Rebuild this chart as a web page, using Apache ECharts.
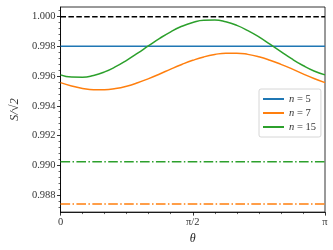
<!DOCTYPE html>
<html>
<head>
<meta charset="utf-8">
<script src="https://cdn.jsdelivr.net/npm/echarts@6/dist/echarts.min.js"></script>
<style>
  html, body { margin: 0; padding: 0; background: #fff; }
  #chart { width: 333px; height: 250px; }
</style>
</head>
<body>
<div id="chart"></div>
<script>
// theta samples (rad), 0 .. pi
const theta = [0, 0.1309, 0.2618, 0.3927, 0.5236, 0.6545, 0.7854, 0.9163, 1.0472, 1.1781,
  1.3090, 1.4399, 1.5708, 1.7017, 1.8326, 1.9635, 2.0944, 2.2253, 2.3562, 2.4871,
  2.6180, 2.7489, 2.8798, 3.0107, 3.14159];
// n = 7 curve (orange)
const n7 = [0.99556, 0.99533, 0.99517, 0.99508, 0.99508, 0.99516, 0.99532, 0.99555, 0.99583, 0.99614,
  0.99647, 0.99678, 0.99706, 0.99729, 0.99745, 0.99754, 0.99754, 0.99746, 0.99730, 0.99707,
  0.99679, 0.99648, 0.99615, 0.99584, 0.99556];
// n = 15 curve (green)
const n15 = [0.99608, 0.99593, 0.99592, 0.99604, 0.99628, 0.99663, 0.99706, 0.99754, 0.99805, 0.99854,
  0.99898, 0.99935, 0.99961, 0.99976, 0.99977, 0.99965, 0.99941, 0.99906, 0.99864, 0.99815,
  0.99765, 0.99715, 0.99671, 0.99634, 0.99608];
// constant levels
const n5Level = 0.998;
const refLevel = 1.0;
const n7Bound = 0.98738;
const n15Bound = 0.99023;

// y tick values
const yMajor = [0.988, 0.990, 0.992, 0.994, 0.996, 0.998, 1.000];
const yMinor = [0.9872, 0.9876, 0.9884, 0.9888, 0.9892, 0.9896, 0.9904, 0.9908, 0.9912, 0.9916,
  0.9924, 0.9928, 0.9932, 0.9936, 0.9944, 0.9948, 0.9952, 0.9956, 0.9964, 0.9968, 0.9972, 0.9976,
  0.9984, 0.9988, 0.9992, 0.9996, 1.0004];

const yMin = 0.98684, yMax = 1.00065;
const font = 'Liberation Serif';

const pairs = ys => theta.map((t, i) => [t, ys[i]]);
const flat = v => [[0, v], [Math.PI, v]];

const myChart = echarts.init(document.getElementById('chart'));

const option = {
  animation: false,
  grid: { left: 51.7, right: 8, top: 7, bottom: 37, show: true, borderColor: '#000', borderWidth: 0.8 },
  xAxis: {
    type: 'value', min: 0, max: Math.PI, interval: Math.PI / 2,
    name: 'θ', nameLocation: 'middle', nameGap: 18,
    nameTextStyle: { fontFamily: font, fontStyle: 'italic', fontSize: 12, color: '#222' },
    axisLine: { lineStyle: { color: '#000', width: 0.8 } },
    axisTick: { length: 3.5, lineStyle: { color: '#000', width: 0.8 } },
    minorTick: { show: true, splitNumber: 6, length: 2, lineStyle: { color: '#000', width: 0.6 } },
    splitLine: { show: false },
    axisLabel: {
      fontFamily: font, fontSize: 10.5, color: '#333', margin: 5,
      formatter: v => Math.abs(v) < 1e-6 ? '0' : (Math.abs(v - Math.PI / 2) < 1e-6 ? 'π/2' : 'π')
    }
  },
  yAxis: [{
    type: 'value', min: yMin, max: yMax,
    name: 'S/√2', nameLocation: 'middle', nameGap: 35,
    nameTextStyle: { fontFamily: font, fontStyle: 'italic', fontSize: 12.5, color: '#333' },
    axisLine: { lineStyle: { color: '#000', width: 0.8 } },
    axisTick: { length: 3.5, customValues: yMajor, lineStyle: { color: '#000', width: 0.8 } },
    splitLine: { show: false },
    axisLabel: {
      fontFamily: font, fontSize: 10.5, color: '#333', margin: 5,
      customValues: yMajor,
      formatter: v => v.toFixed(3)
    }
  }, {
    type: 'value', min: yMin, max: yMax, position: 'left',
    axisLine: { show: false },
    axisTick: { length: 2, customValues: yMinor, lineStyle: { color: '#000', width: 0.6 } },
    axisLabel: { show: false },
    splitLine: { show: false }
  }],
  legend: {
    data: ['n5', 'n7', 'n15'],
    orient: 'vertical', left: 259, top: 89,
    backgroundColor: '#fff', borderColor: '#ccc', borderWidth: 0.8, borderRadius: 2,
    padding: [4, 5, 4, 4], itemGap: 2, itemWidth: 21, itemHeight: 2, icon: 'rect',
    formatter: name => '{i|n} = ' + name.slice(1),
    textStyle: {
      fontFamily: font, fontSize: 10.5, color: '#333', lineHeight: 12,
      rich: { i: { fontFamily: font, fontStyle: 'italic', fontSize: 10.5, color: '#333', lineHeight: 12 } }
    }
  },
  series: [
    { name: 'ref', type: 'line', symbol: 'none', data: flat(refLevel),
      lineStyle: { color: '#000', width: 1.5, type: [5.5, 2.4] } },
    { name: 'n5', type: 'line', symbol: 'none', data: flat(n5Level),
      lineStyle: { color: '#1f77b4', width: 1.5 }, itemStyle: { color: '#1f77b4' } },
    { name: 'n7', type: 'line', symbol: 'none', smooth: true, data: pairs(n7),
      lineStyle: { color: '#ff7f0e', width: 1.5 }, itemStyle: { color: '#ff7f0e' } },
    { name: 'n15', type: 'line', symbol: 'none', smooth: true, data: pairs(n15),
      lineStyle: { color: '#2ca02c', width: 1.5 }, itemStyle: { color: '#2ca02c' } },
    { name: 'n7b', type: 'line', symbol: 'none', data: flat(n7Bound),
      lineStyle: { color: '#ff7f0e', width: 1.5, type: [9.6, 2.4, 1.5, 2.4] } },
    { name: 'n15b', type: 'line', symbol: 'none', data: flat(n15Bound),
      lineStyle: { color: '#2ca02c', width: 1.5, type: [9.6, 2.4, 1.5, 2.4] } }
  ]
};

myChart.setOption(option);
</script>
</body>
</html>
